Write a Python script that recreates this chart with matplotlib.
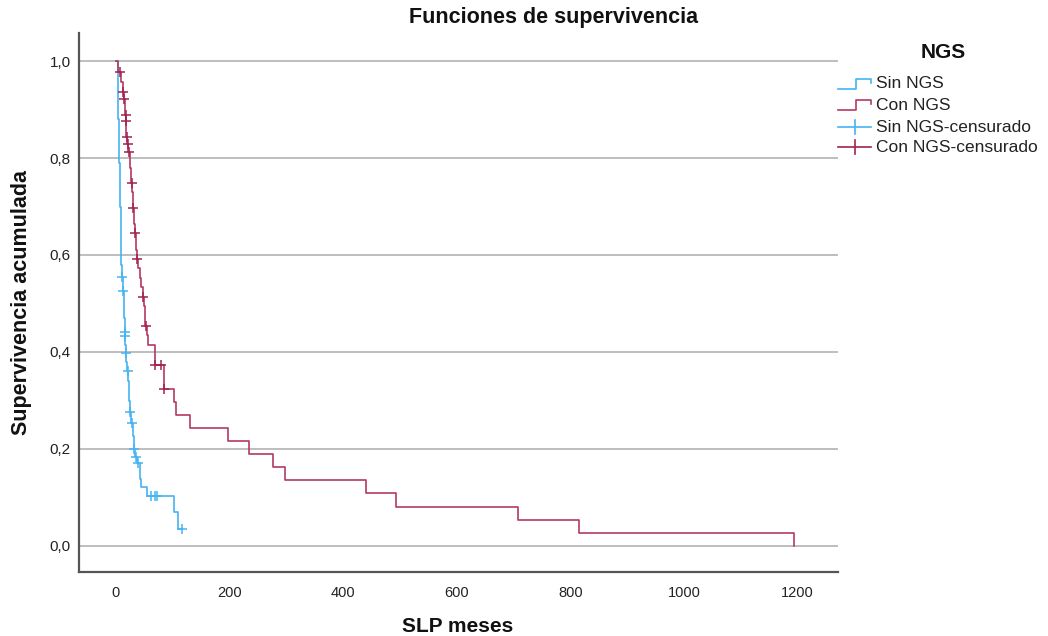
import numpy as np
import matplotlib
matplotlib.use('Agg')
import matplotlib.pyplot as plt
from matplotlib.lines import Line2D

plt.rcParams['font.family'] = ['Liberation Sans', 'DejaVu Sans']

# Kaplan-Meier steps: event time (months) and survival after the event
sin_t = [0, 3, 3.5, 4, 4.5, 5, 5.3, 5.6, 6.3, 7, 7.6, 8.2, 8.8, 9.3, 9.8, 9.9,
         12, 13.5, 14.5, 15.3, 15.8, 16.5, 17, 18.5, 20, 21.5, 22.5, 23.5, 24.3,
         27, 30, 32, 34, 36.5, 41.7, 43, 44.6, 55, 102, 109, 116.8]
sin_s = [1.0, 0.97, 0.94, 0.91, 0.88, 0.85, 0.82, 0.79, 0.76, 0.73, 0.70, 0.67,
         0.64, 0.61, 0.58, 0.555, 0.526, 0.498, 0.470, 0.442, 0.432, 0.414, 0.397,
         0.379, 0.361, 0.34, 0.32, 0.298, 0.277, 0.253, 0.226, 0.200, 0.184, 0.171,
         0.155, 0.138, 0.121, 0.103, 0.069, 0.035, 0.035]
sin_cens = [10.0, 12.9, 15.6, 15.9, 17.1, 20.6, 24.6, 28.7, 32.2, 34.7, 38.2,
            62.2, 69.2, 72.7, 116.8]

con_t = [0, 3, 9, 12, 13.5, 16, 16.8, 17.1, 18, 18.5, 20, 22, 24, 25, 26, 27,
         28.5, 29.3, 30, 31.3, 32.3, 33.2, 34.5, 35.8, 37, 39.5, 42, 44.5, 47,
         49, 50.5, 52, 55, 57, 69, 84, 103, 106.6, 131, 198, 234, 277, 297.5,
         441, 493, 708, 815.6, 1193]
con_s = [1.0, 0.977, 0.957, 0.937, 0.921, 0.905, 0.889, 0.876, 0.860, 0.844,
         0.830, 0.813, 0.797, 0.780, 0.764, 0.748, 0.731, 0.714, 0.696, 0.679,
         0.663, 0.646, 0.628, 0.610, 0.592, 0.573, 0.553, 0.533, 0.514, 0.494,
         0.474, 0.454, 0.435, 0.414, 0.374, 0.324, 0.297, 0.270, 0.243, 0.216,
         0.189, 0.162, 0.135, 0.108, 0.081, 0.054, 0.027, 0.0]
con_cens = [7.0, 12.9, 14.6, 17.0, 17.2, 18.8, 20.6, 22.9, 27.6, 30.5, 33.5,
            37.5, 48.1, 52.3, 69.5, 79.2, 85.0]

x_ticks = [0, 200, 400, 600, 800, 1000, 1200]
y_ticks = [0.0, 0.2, 0.4, 0.6, 0.8, 1.0]

blue = '#45b4f2'
red = '#b23a66'
red_mark = '#a2234f'

W, H = 1048, 636
fig = plt.figure(figsize=(W / 100.0, H / 100.0), dpi=100)
ax = fig.add_axes([79.0 / W, 1 - 572.0 / H, (838.0 - 79.0) / W, (572.0 - 33.0) / H])


def surv_at(t, s, c):
    idx = np.searchsorted(t, c, side='right') - 1
    return np.asarray(s)[idx]


ax.step(sin_t, sin_s, where='post', color=blue, lw=1.2, zorder=3)
ax.step(con_t, con_s, where='post', color=red, lw=1.2, zorder=3)
ax.plot(sin_cens, surv_at(sin_t, sin_s, sin_cens), ls='none', marker='+',
        ms=7, mew=1.1, color=blue, zorder=4)
ax.plot(con_cens, surv_at(con_t, con_s, con_cens), ls='none', marker='+',
        ms=7, mew=1.1, color=red_mark, zorder=4)

ax.set_xlim(-65, 1271)
ax.set_ylim(-0.054, 1.058)
ax.set_xticks(x_ticks)
ax.set_xticklabels([str(v) for v in x_ticks], fontsize=10.5, color='#222222')
ax.set_yticks(y_ticks)
ax.set_yticklabels([('%.1f' % v).replace('.', ',') for v in y_ticks],
                   fontsize=11, color='#222222')
ax.tick_params(axis='both', length=0)
ax.tick_params(axis='x', pad=10)
ax.tick_params(axis='y', pad=6)
ax.yaxis.grid(True, color='#b9b9b9', lw=1.3)
ax.set_axisbelow(True)
for side in ('top', 'right'):
    ax.spines[side].set_visible(False)
for side in ('left', 'bottom'):
    ax.spines[side].set_color('#555555')
    ax.spines[side].set_linewidth(1.6)


def fx(x):
    return x / float(W)


def fy(y):
    return 1 - y / float(H)


fig.text(fx(554), fy(17), 'Funciones de supervivencia', ha='center', va='center',
         fontsize=15.5, fontweight='bold', color='#111111')
fig.text(fx(458), fy(627), 'SLP meses', ha='center', va='center',
         fontsize=15, fontweight='bold', color='#111111')
fig.text(fx(22), fy(303), 'Supervivencia acumulada', ha='center', va='center',
         rotation=90, fontsize=15.5, fontweight='bold', color='#111111')

# legend drawn by hand: step glyphs for curves, cross glyphs for censored
fig.text(fx(943), fy(52), 'NGS', ha='center', va='center', fontsize=15,
         fontweight='bold', color='#111111')
labels = ['Sin NGS', 'Con NGS', 'Sin NGS-censurado', 'Con NGS-censurado']
rows = [84, 105, 127, 147]
colors = [blue, red, blue, red_mark]
for i, (lab, yy, c) in enumerate(zip(labels, rows, colors)):
    if i < 2:
        xs = [fx(838), fx(856), fx(856), fx(871), fx(871)]
        ys = [fy(yy + 5), fy(yy + 5), fy(yy - 5), fy(yy - 5), fy(yy - 1)]
        fig.add_artist(Line2D(xs, ys, color=c, lw=1.2))
    else:
        fig.add_artist(Line2D([fx(838), fx(871)], [fy(yy), fy(yy)], color=c, lw=1.2))
        fig.add_artist(Line2D([fx(855), fx(855)], [fy(yy - 7), fy(yy + 7)], color=c, lw=1.2))
    fig.text(fx(876), fy(yy), lab, ha='left', va='center', fontsize=12.5,
             color='#222222')

fig.savefig('out.png', dpi=100)
